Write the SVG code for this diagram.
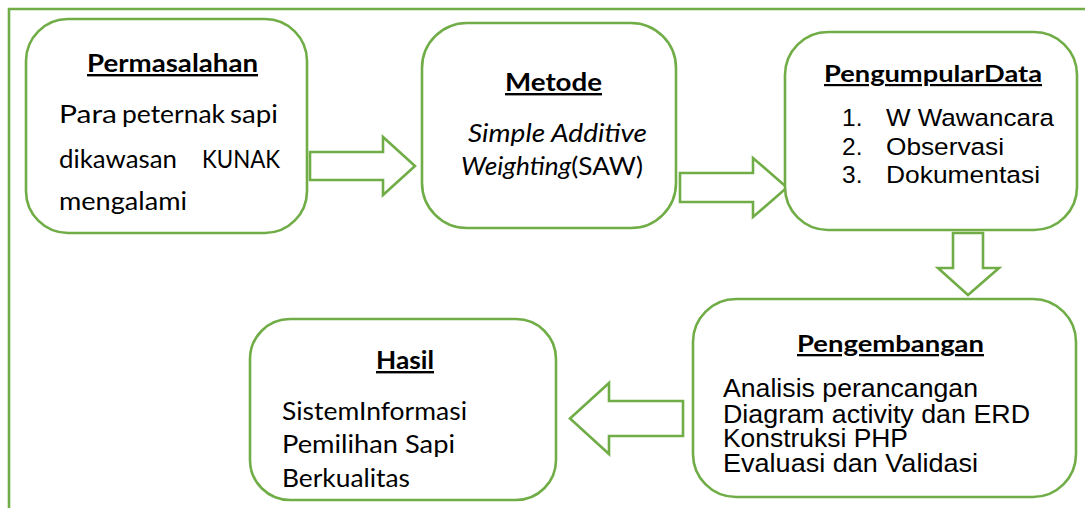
<svg xmlns="http://www.w3.org/2000/svg" width="1085" height="508" viewBox="0 0 1085 508">
<style>
.box{fill:#fff;stroke:#70AD47;stroke-width:2.6}
.arr{fill:#fff;stroke:#70AD47;stroke-width:2.6;stroke-linejoin:miter}
.frame{fill:none;stroke:#70AD47;stroke-width:2.6}
.h{font-family:Lato,"Liberation Sans",sans-serif;font-weight:bold;text-decoration:underline;fill:#000}
.c{font-family:Lato,"Liberation Sans",sans-serif;font-size:24.5px;fill:#000}
.a{font-family:"Liberation Sans",Arial,sans-serif;fill:#000}
</style>
<rect width="1085" height="508" fill="#fff"/>
<path class="frame" d="M9 508 V9 H1085"/>
<g id="connectors">
<polygon class="arr" points="310,152 383,152 383,137 415,166 383,195 383,180 310,180"/>
<polygon class="arr" points="680,173 753,173 753,158 787,187.5 753,217 753,202 680,202"/>
<polygon class="arr" points="953,233 983,233 983,268 999,268 968,295 938,268 953,268"/>
<polygon class="arr" points="683,401 609,401 609,383 570,418.5 609,454 609,436 683,436"/>
</g>
<g id="permasalahan">
<rect class="box" x="26" y="19" width="281" height="214" rx="42"/>
<text class="h" x="87" y="72" font-size="24" textLength="171" lengthAdjust="spacingAndGlyphs">Permasalahan</text>
<text class="c" x="59" y="123.3" textLength="58" lengthAdjust="spacingAndGlyphs">Para</text>
<text class="c" x="122" y="123.3" textLength="103" lengthAdjust="spacingAndGlyphs">peternak</text>
<text class="c" x="230" y="123.3" textLength="48" lengthAdjust="spacingAndGlyphs">sapi</text>
<text class="c" x="59" y="167.7" textLength="118" lengthAdjust="spacingAndGlyphs">dikawasan</text>
<text class="c" x="202" y="167.7" textLength="78" lengthAdjust="spacingAndGlyphs">KUNAK</text>
<text class="c" x="59" y="210" textLength="128" lengthAdjust="spacingAndGlyphs">mengalami</text>
</g>
<g id="metode">
<rect class="box" x="422" y="23" width="254" height="205" rx="45"/>
<text class="h" x="505" y="91" font-size="24" textLength="97" lengthAdjust="spacingAndGlyphs">Metode</text>
<text class="c" x="468" y="141.7" font-style="italic" textLength="179" lengthAdjust="spacingAndGlyphs">Simple Additive</text>
<text class="c" x="461" y="175" textLength="182" lengthAdjust="spacingAndGlyphs"><tspan font-style="italic">Weighting</tspan>(SAW)</text>
</g>
<g id="pengumpulan">
<rect class="box" x="785" y="32" width="292" height="198" rx="43"/>
<text class="h" x="824" y="82" font-size="22" textLength="218" lengthAdjust="spacingAndGlyphs">PengumpularData</text>
<g class="a" font-size="24.5">
<text x="842" y="125.7">1.</text>
<text x="886" y="125.7" textLength="168" lengthAdjust="spacingAndGlyphs">W Wawancara</text>
<text x="842" y="155">2.</text>
<text x="886" y="155" textLength="118" lengthAdjust="spacingAndGlyphs">Observasi</text>
<text x="842" y="183.3">3.</text>
<text x="886" y="183.3" textLength="154" lengthAdjust="spacingAndGlyphs">Dokumentasi</text>
</g>
</g>
<g id="pengembangan">
<rect class="box" x="693" y="299" width="383" height="198" rx="43"/>
<text class="h" x="797" y="352" font-size="23" textLength="187" lengthAdjust="spacingAndGlyphs">Pengembangan</text>
<text class="a" font-size="26"><tspan x="723" y="396.7" textLength="255" lengthAdjust="spacingAndGlyphs">Analisis perancangan</tspan><tspan x="723" y="422.7" textLength="307" lengthAdjust="spacingAndGlyphs">Diagram activity dan ERD</tspan><tspan x="723" y="447.3" textLength="185" lengthAdjust="spacingAndGlyphs">Konstruksi PHP</tspan><tspan x="723" y="471.7" textLength="255" lengthAdjust="spacingAndGlyphs">Evaluasi dan Validasi</tspan></text>
</g>
<g id="hasil">
<rect class="box" x="250" y="319" width="306" height="181" rx="40"/>
<text class="h" x="376" y="369" font-size="24" textLength="58" lengthAdjust="spacingAndGlyphs">Hasil</text>
<text class="c" x="282" y="420" textLength="185" lengthAdjust="spacingAndGlyphs">SistemInformasi</text>
<text class="c" x="282" y="453.3" textLength="173" lengthAdjust="spacingAndGlyphs">Pemilihan Sapi</text>
<text class="c" x="282" y="486.7" textLength="128" lengthAdjust="spacingAndGlyphs">Berkualitas</text>
</g>
</svg>
